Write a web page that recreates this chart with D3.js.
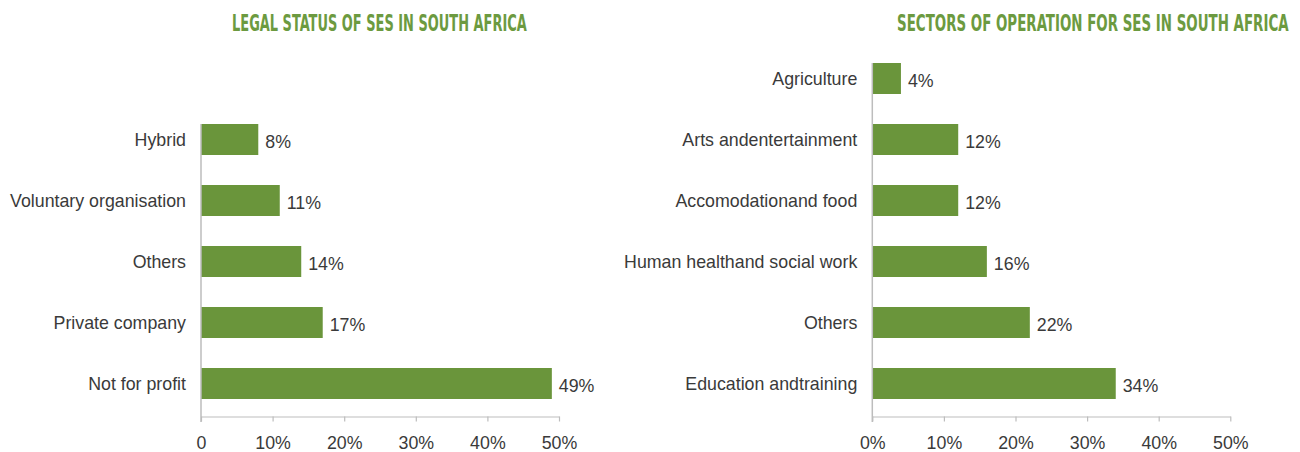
<!DOCTYPE html>
<html>
<head>
<meta charset="utf-8">
<script src="https://cdn.jsdelivr.net/npm/d3@7"></script>
<style>
  html, body { margin: 0; padding: 0; background: #fff; }
  svg { display: block; }
</style>
</head>
<body>
<svg id="chart" width="1300" height="452"></svg>
<script>
// ---- Data ----
const legalCategories = ["Hybrid", "Voluntary organisation", "Others", "Private company", "Not for profit"];
const legalValues = [0.08, 0.11, 0.14, 0.17, 0.49];
const legalValueLabels = ["8%", "11%", "14%", "17%", "49%"];

const sectorCategories = ["Agriculture", "Arts andentertainment", "Accomodationand food", "Human healthand social work", "Others", "Education andtraining"];
const sectorValues = [0.04, 0.12, 0.12, 0.16, 0.22, 0.34];
const sectorValueLabels = ["4%", "12%", "12%", "16%", "22%", "34%"];

const tickValues = [0, 0.1, 0.2, 0.3, 0.4, 0.5];
const leftTickLabels = ["0", "10%", "20%", "30%", "40%", "50%"];
const rightTickLabels = ["0%", "10%", "20%", "30%", "40%", "50%"];

const titles = ["LEGAL STATUS OF SES IN SOUTH AFRICA", "SECTORS OF OPERATION FOR SES IN SOUTH AFRICA"];

// ---- Styles ----
const GREEN = "#6a953b";
const TITLE_GREEN = "#6c9a40";
const TEXT = "#3a3a3a";
const AXIS = "#bdbdbd";
const FONT = "'Liberation Sans', Arial, Helvetica, sans-serif";
const FS = 17.8;

const svg = d3.select("#chart");

function panel(cfg) {
  const x = d3.scaleLinear().domain([0, 0.5]).range([cfg.x0, cfg.x1]);
  const step = 61, bw = 31;
  const n = cfg.categories.length;
  const y = d3.scaleBand().domain(cfg.categories)
    .range([cfg.top, cfg.top + n * step - (step - bw)])
    .paddingInner((step - bw) / step).paddingOuter(0);
  const axisY = 416.5;
  const g = svg.append("g");

  // title (horizontally condensed to fit the reference width)
  const t = g.append("text")
    .attr("x", 0).attr("y", 0)
    .attr("fill", TITLE_GREEN)
    .style("font-family", "'DejaVu Sans Condensed', 'Liberation Sans Narrow', 'DejaVu Sans', sans-serif")
    .style("font-stretch", "condensed")
    .style("font-weight", "bold")
    .style("font-size", "23px")
    .text(cfg.title);
  const natural = t.node().getComputedTextLength();
  const sx = (cfg.titleX1 - cfg.titleX0) / natural;
  t.attr("transform", `translate(${cfg.titleX0},31) scale(${sx},1)`);

  // bars
  g.selectAll("rect.bar").data(cfg.values).join("rect")
    .attr("class", "bar")
    .attr("x", x(0))
    .attr("y", (d, i) => y(cfg.categories[i]))
    .attr("width", d => x(d) - x(0))
    .attr("height", y.bandwidth())
    .attr("fill", GREEN);

  // value labels
  g.selectAll("text.val").data(cfg.values).join("text")
    .attr("class", "val")
    .attr("x", d => x(d) + 7)
    .attr("y", (d, i) => y(cfg.categories[i]) + y.bandwidth() / 2)
    .attr("dy", "0.5em")
    .attr("fill", TEXT)
    .style("font-family", FONT).style("font-size", FS + "px")
    .text((d, i) => cfg.valueLabels[i]);

  // y axis (labels only)
  const ya = g.append("g").attr("transform", `translate(${x(0)},0)`)
    .call(d3.axisLeft(y).tickSize(0).tickPadding(15));
  ya.select(".domain").remove();
  ya.selectAll("text").attr("fill", TEXT)
    .style("font-family", FONT).style("font-size", FS + "px")
    .attr("dy", "0.38em");

  // x axis
  const xa = g.append("g").attr("transform", `translate(0,${axisY})`)
    .call(d3.axisBottom(x).tickValues(tickValues).tickSize(5).tickSizeOuter(0).tickPadding(15)
      .tickFormat((d, i) => cfg.tickLabels[i]));
  xa.select(".domain").attr("stroke", AXIS).attr("stroke-width", 1.2);
  xa.selectAll(".tick line").attr("stroke", AXIS).attr("stroke-width", 1.2);
  xa.selectAll(".tick text").attr("fill", TEXT)
    .style("font-family", FONT).style("font-size", FS + "px");

  // vertical axis line
  g.append("line")
    .attr("x1", x(0)).attr("x2", x(0))
    .attr("y1", y.range()[0]).attr("y2", axisY + 5.5)
    .attr("stroke", AXIS).attr("stroke-width", 1.5);
}

panel({
  title: titles[0], titleX0: 232, titleX1: 527,
  categories: legalCategories, values: legalValues, valueLabels: legalValueLabels,
  tickLabels: leftTickLabels, x0: 201, x1: 559, top: 124
});
panel({
  title: titles[1], titleX0: 897, titleX1: 1289,
  categories: sectorCategories, values: sectorValues, valueLabels: sectorValueLabels,
  tickLabels: rightTickLabels, x0: 872.3, x1: 1230.3, top: 63
});
</script>
</body>
</html>
